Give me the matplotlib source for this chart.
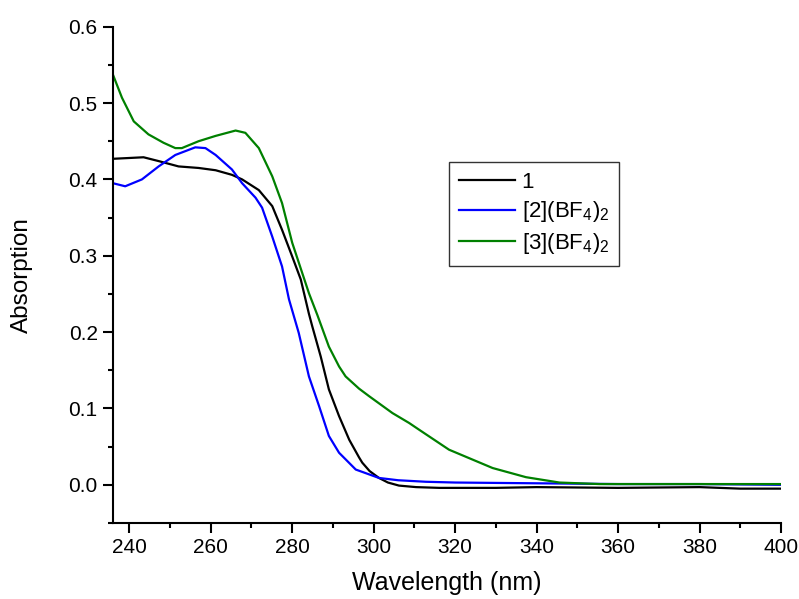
import matplotlib
matplotlib.use("Agg")
import matplotlib.pyplot as plt
from matplotlib.ticker import MultipleLocator

plt.rcParams['font.family'] = ['Liberation Sans', 'DejaVu Sans']
plt.rcParams['mathtext.fontset'] = 'custom'
plt.rcParams['mathtext.rm'] = 'Liberation Sans'
plt.rcParams['mathtext.default'] = 'regular'

labels = ['1', r'[2](BF$_4$)$_2$', r'[3](BF$_4$)$_2$']
colors = ['#000000', '#0000ff', '#008000']

wl_1 = [236.0, 239.8, 243.5, 247.2, 252.1, 257.0, 261.2, 265.2, 267.7, 271.8, 275.1, 277.5,
        280.0, 282.1, 284.1, 284.9, 287.0, 289.0, 291.5, 294.0, 296.4, 297.2, 299.0, 301.3,
        303.5, 306.2, 310.4, 316.1, 330, 340, 360, 380, 390, 400]
abs_1 = [0.427, 0.428, 0.429, 0.424, 0.417, 0.415, 0.412, 0.406, 0.400, 0.386, 0.365, 0.334,
         0.299, 0.269, 0.224, 0.208, 0.168, 0.125, 0.090, 0.059, 0.036, 0.029, 0.018, 0.009,
         0.003, -0.001, -0.003, -0.004, -0.004, -0.003, -0.004, -0.003, -0.005, -0.005]

wl_2 = [236.0, 239.0, 243.1, 247.2, 251.3, 256.2, 258.7, 261.2, 265.2, 267.7, 271.0, 272.6,
        275.1, 277.5, 279.2, 280.4, 281.6, 284.1, 286.6, 289.0, 291.5, 295.6, 301.3, 306,
        312.8, 320, 340, 360, 380, 400]
abs_2 = [0.395, 0.391, 0.400, 0.417, 0.432, 0.442, 0.441, 0.432, 0.413, 0.395, 0.376, 0.363,
         0.325, 0.286, 0.243, 0.221, 0.199, 0.142, 0.103, 0.064, 0.042, 0.020, 0.009, 0.006,
         0.004, 0.003, 0.002, 0.001, 0.001, 0.000]

wl_3 = [236.0, 238.2, 241.1, 244.7, 248.4, 251.3, 252.9, 257.0, 261.2, 266.1, 268.5, 271.8,
        275.1, 277.5, 280.0, 284.1, 286.2, 289.0, 291.5, 293.1, 296.4, 298.9, 304.6,
        308.7, 311.2, 318.5, 329.2, 337.4, 345.6, 355.4, 370, 400]
abs_3 = [0.537, 0.507, 0.476, 0.459, 0.448, 0.441, 0.441, 0.450, 0.457, 0.464, 0.461, 0.441,
         0.404, 0.369, 0.317, 0.251, 0.222, 0.181, 0.155, 0.142, 0.126, 0.116, 0.094,
         0.081, 0.072, 0.046, 0.022, 0.010, 0.003, 0.001, 0.001, 0.001]

fig = plt.figure(figsize=(7.99, 5.99), dpi=100)
ax = fig.add_axes([113/799, 1-523/599, (781-113)/799, (523-26.7)/599])

for x, y, lab, c in zip([wl_1, wl_2, wl_3], [abs_1, abs_2, abs_3], labels, colors):
    ax.plot(x, y, color=c, lw=1.6, label=lab)

ax.set_xlim(236, 400)
ax.set_ylim(-0.05, 0.6)
ax.xaxis.set_major_locator(MultipleLocator(20))
ax.xaxis.set_minor_locator(MultipleLocator(10))
ax.yaxis.set_major_locator(MultipleLocator(0.1))
ax.yaxis.set_minor_locator(MultipleLocator(0.05))
ax.yaxis.set_major_formatter(plt.FuncFormatter(lambda v, p: f"{v:.1f}"))
ax.spines['top'].set_visible(False)
ax.spines['right'].set_visible(False)
for s in ['left', 'bottom']:
    ax.spines[s].set_linewidth(1.5)
ax.tick_params(which='major', direction='out', length=7, width=1.5, labelsize=15, pad=4)
ax.tick_params(which='minor', direction='out', length=3.5, width=1.5)

ax.set_xlabel('Wavelength (nm)', fontsize=18)
ax.set_ylabel('Absorption', fontsize=17.5)
ax.xaxis.set_label_coords(0.5, -0.096)
ax.yaxis.set_label_coords(-0.12, 0.5)

leg = ax.legend(loc='upper left', bbox_to_anchor=(449.3/799, 1-161.7/599),
                bbox_transform=fig.transFigure, borderaxespad=0, fancybox=False,
                frameon=True, fontsize=16, handlelength=2.5, handletextpad=0.3,
                labelspacing=0.3, borderpad=0.45)
leg.get_frame().set_edgecolor('black')
leg.get_frame().set_linewidth(1.0)

fig.savefig('out.png', dpi=100)
